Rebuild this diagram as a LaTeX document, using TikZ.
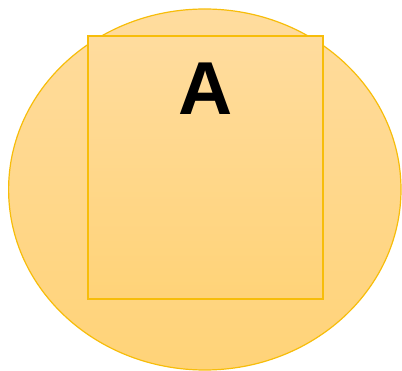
\documentclass[tikz,border=0pt]{standalone}
\usepackage{fontspec}
\setmainfont{Liberation Sans}
\definecolor{gtop}{HTML}{FFDC9E}
\definecolor{gbot}{HTML}{FFD378}
\definecolor{gstroke}{HTML}{F7BD0A}
\tikzset{
  shapebox/.style={draw=gstroke, line width=1.2pt, top color=gtop, bottom color=gbot},
}
\begin{document}
\begin{tikzpicture}[x=1pt,y=-1pt]
\useasboundingbox (0,0) rectangle (402,371);
\path[shapebox] (204.8,189.5) ellipse [x radius=196.2, y radius=180.5];
\node[shapebox, minimum width=235pt, minimum height=263pt, inner sep=0pt, outer sep=0pt, anchor=north west] (box) at (88,36) {};
\node[font=\fontsize{75}{75}\selectfont\bfseries, anchor=base] (a) at (205.5,115) {A};
\end{tikzpicture}
\end{document}
